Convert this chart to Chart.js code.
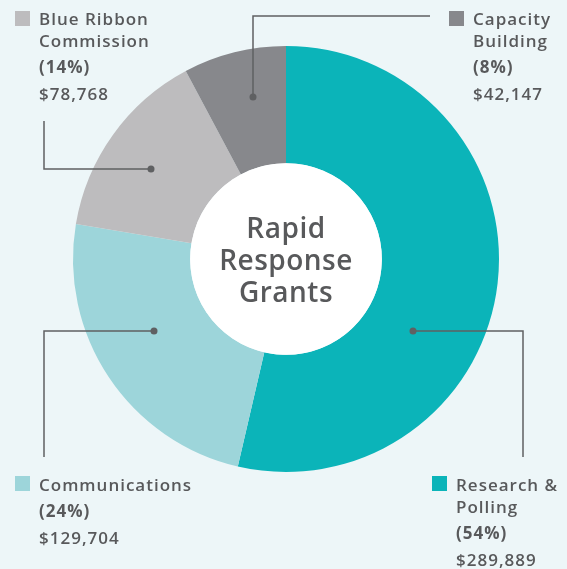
<!DOCTYPE html>
<html>
<head>
<meta charset="utf-8">
<script src="https://cdn.jsdelivr.net/npm/chart.js@4"></script>
<style>
  html, body { margin: 0; padding: 0; background: #edf6f8; }
  canvas { display: block; }
</style>
</head>
<body>
<canvas id="grantsChart" width="567" height="569"></canvas>
<script>
// data
const categories = [['Research &', 'Polling'], ['Communications'], ['Blue Ribbon', 'Commission'], ['Capacity', 'Building']];
const amounts = [289889, 129704, 78768, 42147];
const percentLabels = ['(54%)', '(24%)', '(14%)', '(8%)'];
const centerTitle = ['Rapid', 'Response', 'Grants'];

const sliceColors = ['#0bb4b9', '#9dd5da', '#bdbcbe', '#87888c'];
const textColor = '#58595b';
const lineColor = '#5f6062';
const fontFamily = '"Open Sans", sans-serif';

// where each label block and its leader line sit
const labelLayout = [
  { sq: [432, 476], x: 456, y: 491, leader: [[523, 457], [523, 331], [413, 331]] },
  { sq: [15, 476], x: 39, y: 491, leader: [[44, 457], [44, 331], [154, 331]] },
  { sq: [15, 11], x: 39, y: 25, leader: [[44, 121], [44, 169], [151, 169]] },
  { sq: [449, 11], x: 473, y: 25, leader: [[430, 16], [253, 16], [253, 97]] }
];

let labelsPlugin = {
  id: 'labelsPlugin',
  beforeDraw(chart) {
    let ctx = chart.ctx;
    ctx.save();
    ctx.fillStyle = '#edf6f8';
    ctx.fillRect(0, 0, chart.width, chart.height);
    ctx.restore();
  },
  afterDatasetsDraw(chart) {
    let ctx = chart.ctx;
    let arc = chart.getDatasetMeta(0).data[0];
    ctx.save();

    // white hole
    ctx.fillStyle = '#ffffff';
    ctx.beginPath();
    ctx.arc(arc.x, arc.y, arc.innerRadius, 0, Math.PI * 2);
    ctx.fill();

    // center title
    ctx.fillStyle = textColor;
    ctx.textAlign = 'center';
    ctx.textBaseline = 'alphabetic';
    ctx.letterSpacing = '0.5px';
    ctx.font = '600 28px ' + fontFamily;
    centerTitle.forEach((t, i) => ctx.fillText(t, arc.x, arc.y - 21 + i * 32));

    // leader lines
    ctx.strokeStyle = lineColor;
    ctx.lineWidth = 1.5;
    labelLayout.forEach(l => {
      ctx.beginPath();
      l.leader.forEach((p, i) => i ? ctx.lineTo(p[0], p[1]) : ctx.moveTo(p[0], p[1]));
      ctx.stroke();
      let end = l.leader[l.leader.length - 1];
      ctx.fillStyle = lineColor;
      ctx.beginPath();
      ctx.arc(end[0], end[1], 3.5, 0, Math.PI * 2);
      ctx.fill();
    });

    // label blocks
    ctx.textAlign = 'left';
    ctx.letterSpacing = '1px';
    labelLayout.forEach((l, i) => {
      ctx.fillStyle = sliceColors[i];
      ctx.fillRect(l.sq[0], l.sq[1], 15, 15);
      ctx.fillStyle = textColor;
      let y = l.y;
      ctx.font = '600 17px ' + fontFamily;
      categories[i].forEach((t, j) => {
        ctx.fillText(t, l.x, y);
        y += 22;
      });
      y += 4;
      ctx.font = '700 17px ' + fontFamily;
      ctx.fillText(percentLabels[i], l.x, y);
      y += 27;
      ctx.font = '600 17px ' + fontFamily;
      ctx.fillText('$' + amounts[i].toLocaleString('en-US'), l.x, y);
    });
    ctx.restore();
  }
};

let grantsChart = new Chart(document.getElementById('grantsChart').getContext('2d'), {
  type: 'doughnut',
  data: {
    labels: categories.map(c => c.join(' ')),
    datasets: [{
      data: amounts,
      backgroundColor: sliceColors,
      borderWidth: 0,
      hoverOffset: 0
    }]
  },
  options: {
    responsive: false,
    animation: false,
    devicePixelRatio: 1,
    cutout: '45%',
    layout: {
      padding: { left: 73, right: 68, top: 46, bottom: 97 }
    },
    plugins: {
      legend: { display: false },
      tooltip: { enabled: false }
    },
    events: []
  },
  plugins: [labelsPlugin]
});
</script>
</body>
</html>
